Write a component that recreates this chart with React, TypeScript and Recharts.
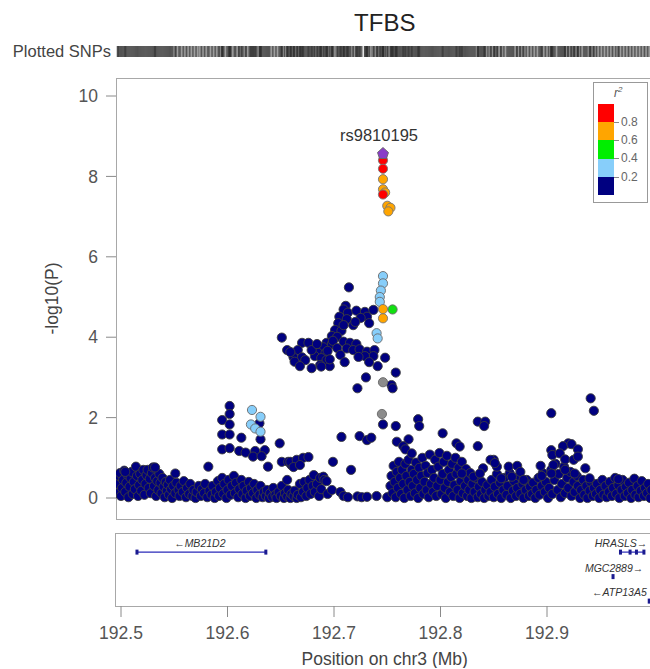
import { ScatterChart, Scatter, XAxis, YAxis, ReferenceLine } from 'recharts';

// region on chr3 (Mb) and -log10(P) range of the regional plot
const X_DOMAIN: [number, number] = [192.4953, 193.0];
const Y_DOMAIN: [number, number] = [-0.522, 10.448];
const X_TICKS = [192.5, 192.6, 192.7, 192.8, 192.9];
const Y_TICKS = [0, 2, 4, 6, 8, 10];

type Pt = [number, number]; // [position Mb, -log10(P)]

const LEAD_NAME = 'rs9810195';
const leadSnp: Pt[] = [[192.746, 8.57]];

const redSnps: Pt[] = [
  [192.746, 8.4], [192.746, 8.19], [192.746, 7.55],
];

const orangeSnps: Pt[] = [
  [192.746, 7.93], [192.746, 7.68], [192.748, 7.6], [192.750, 7.27],
  [192.753, 7.22], [192.751, 7.13], [192.746, 4.7], [192.746, 4.47],
];

const greenSnps: Pt[] = [[192.755, 4.69]];

const lightBlueSnps: Pt[] = [
  [192.746, 5.52], [192.746, 5.34], [192.744, 5.16], [192.743, 5.0], [192.743, 4.88],
  [192.740, 4.1], [192.741, 3.97],
  [192.623, 2.19], [192.631, 2.02], [192.622, 1.83], [192.626, 1.73], [192.631, 1.65],
];

const greySnps: Pt[] = [[192.745, 2.09], [192.746, 2.88]];

const navySnps: Pt[] = [
  // 192.50 - 192.54
  [192.497, 0.12], [192.497, 0.35], [192.498, 0.55], [192.499, 0.62], [192.500, 0.05],
  [192.501, 0.25], [192.502, 0.45], [192.503, 0.68], [192.504, 0.15], [192.505, 0.38],
  [192.506, 0.58], [192.507, 0.02], [192.508, 0.28], [192.509, 0.5], [192.510, 0.65],
  [192.511, 0.1], [192.512, 0.4], [192.513, 0.22], [192.514, 0.78], [192.515, 0.55],
  [192.516, 0.05], [192.517, 0.32], [192.518, 0.6], [192.519, 0.18], [192.520, 0.45],
  [192.521, 0.7], [192.522, 0.08], [192.523, 0.35], [192.524, 0.57], [192.525, 0.7],
  [192.526, 0.25], [192.527, 0.48], [192.528, 0.12], [192.529, 0.62], [192.530, 0.76],
  [192.531, 0.3], [192.532, 0.5], [192.533, 0.05], [192.534, 0.42], [192.535, 0.2],
  [192.536, 0.6], [192.504, 0.65], [192.532, 0.76],
  // 192.54 - 192.57
  [192.537, 0.38], [192.538, 0.12], [192.539, 0.5], [192.540, 0.28], [192.541, 0.02],
  [192.542, 0.4], [192.543, 0.18], [192.544, 0.33], [192.545, 0.08], [192.546, 0.45],
  [192.547, 0.22], [192.548, 0.0], [192.549, 0.3], [192.551, 0.61], [192.551, 0.12],
  [192.552, 0.38], [192.554, 0.2], [192.555, 0.05], [192.556, 0.3], [192.558, 0.15],
  [192.559, 0.42], [192.561, 0.02], [192.562, 0.25], [192.564, 0.1], [192.565, 0.35],
  [192.567, 0.05], [192.568, 0.2], [192.570, 0.0], [192.571, 0.15], [192.573, 0.3],
  // 192.57 - 192.635
  [192.575, 0.05], [192.576, 0.22], [192.578, 0.12], [192.579, 0.35], [192.581, 0.02],
  [192.582, 0.78], [192.583, 0.18], [192.585, 0.08], [192.586, 0.3], [192.588, 0.0],
  [192.589, 0.15], [192.591, 0.42], [192.592, 0.05], [192.593, 0.25], [192.595, 0.5],
  [192.596, 0.1], [192.597, 0.35], [192.599, 0.0], [192.600, 0.2], [192.601, 0.45],
  [192.603, 0.08], [192.604, 0.3], [192.606, 0.55], [192.607, 0.12], [192.608, 0.38],
  [192.610, 0.02], [192.611, 0.22], [192.613, 0.45], [192.614, 0.1], [192.615, 0.3],
  [192.617, 0.0], [192.618, 0.18], [192.620, 0.4], [192.621, 0.05], [192.622, 0.25],
  [192.624, 0.12], [192.625, 0.35], [192.627, 0.0], [192.628, 0.2], [192.630, 0.08],
  [192.631, 0.3], [192.633, 0.02], [192.634, 0.15],
  // 192.635 - 192.68
  [192.636, 0.05], [192.637, 0.2], [192.639, 0.0], [192.640, 0.12], [192.642, 0.03],
  [192.643, 0.25], [192.645, 0.08], [192.646, 0.0], [192.648, 0.15], [192.650, 0.05],
  [192.651, 0.3], [192.653, 0.0], [192.654, 0.12], [192.656, 0.04], [192.657, 0.2],
  [192.659, 0.0], [192.660, 0.1], [192.662, 0.05], [192.663, 0.18], [192.665, 0.0],
  [192.666, 0.08], [192.668, 0.35], [192.669, 0.02], [192.671, 0.15], [192.672, 0.4],
  [192.674, 0.05], [192.675, 0.25], [192.677, 0.45], [192.678, 0.1], [192.680, 0.3],
  // 192.68 - 192.75 (sparse floor)
  [192.682, 0.15], [192.681, 0.57], [192.684, 0.35], [192.686, 0.05], [192.687, 0.5],
  [192.688, 0.22], [192.690, 0.53], [192.691, 0.45], [192.693, 0.42], [192.694, 0.1],
  [192.698, 0.2], [192.699, 0.9], [192.706, 0.15], [192.709, 0.05], [192.713, 0.02],
  [192.716, 0.7], [192.722, 0.04], [192.726, 0.02], [192.731, 0.03], [192.740, 0.05],
  [192.750, 0.02],
  // 192.75 - 192.846 cluster
  [192.753, 0.3], [192.754, 0.55], [192.755, 0.12], [192.756, 0.8], [192.757, 0.4],
  [192.758, 0.02], [192.759, 0.65], [192.760, 0.25], [192.761, 0.9], [192.762, 0.5],
  [192.763, 0.1], [192.764, 0.7], [192.765, 0.35], [192.766, 0.0], [192.767, 0.85],
  [192.768, 0.55], [192.769, 0.2], [192.770, 0.95], [192.771, 0.4], [192.772, 0.05],
  [192.773, 0.7], [192.774, 0.3], [192.775, 0.6], [192.776, 0.12], [192.777, 0.88],
  [192.778, 0.45], [192.779, 0.0], [192.780, 0.75], [192.781, 0.25], [192.782, 0.55],
  [192.783, 1.0], [192.784, 0.1], [192.785, 0.4], [192.786, 0.8], [192.787, 0.2],
  [192.788, 0.62], [192.789, 0.02], [192.790, 1.08], [192.791, 0.35], [192.792, 0.7],
  [192.793, 0.15], [192.794, 0.5], [192.795, 0.95], [192.796, 0.05], [192.797, 0.3],
  [192.798, 0.78], [192.799, 1.12], [192.800, 0.45], [192.801, 0.1], [192.802, 0.6],
  [192.803, 0.9], [192.804, 0.25], [192.805, 0.0], [192.806, 1.05], [192.807, 0.4],
  [192.808, 0.7], [192.809, 0.15], [192.810, 0.52], [192.811, 0.85], [192.812, 0.05],
  [192.813, 0.32], [192.814, 1.0], [192.815, 0.6], [192.816, 0.2], [192.817, 0.75],
  [192.818, 0.0], [192.819, 0.42], [192.820, 0.9], [192.821, 0.12], [192.822, 0.58],
  [192.823, 0.3], [192.824, 0.72], [192.825, 0.05], [192.826, 0.45], [192.827, 0.2],
  [192.828, 0.62], [192.829, 0.0], [192.830, 0.35], [192.832, 0.15], [192.833, 0.5],
  [192.835, 0.02], [192.836, 0.28], [192.838, 0.1], [192.839, 0.4], [192.841, 0.0],
  [192.842, 0.2], [192.844, 0.32], [192.845, 0.05],
  // 192.846 - 193.0
  [192.847, 0.15], [192.848, 0.45], [192.850, 0.02], [192.851, 0.28], [192.853, 0.6],
  [192.854, 0.1], [192.856, 0.38], [192.857, 0.0], [192.859, 0.2], [192.860, 0.5],
  [192.862, 0.08], [192.863, 0.3], [192.865, 0.62], [192.866, 0.0], [192.868, 0.18],
  [192.869, 0.42], [192.871, 0.05], [192.872, 0.25], [192.874, 0.55], [192.875, 0.1],
  [192.877, 0.35], [192.878, 0.0], [192.880, 0.2], [192.881, 0.45], [192.883, 0.05],
  [192.884, 0.28], [192.886, 0.1], [192.887, 0.38], [192.889, 0.0], [192.890, 0.2],
  [192.892, 0.5], [192.893, 0.08], [192.895, 0.3], [192.896, 0.62], [192.898, 0.15],
  [192.899, 0.4], [192.901, 0.0], [192.902, 0.25], [192.904, 0.7], [192.905, 0.1],
  [192.907, 0.45], [192.908, 0.85], [192.910, 0.2], [192.911, 0.6], [192.913, 0.02],
  [192.914, 0.35], [192.916, 0.78], [192.917, 0.12], [192.919, 0.5], [192.920, 0.25],
  [192.922, 0.65], [192.923, 0.05], [192.925, 0.4], [192.926, 0.15], [192.928, 0.55],
  [192.929, 0.3], [192.931, 0.0], [192.932, 0.2], [192.934, 0.45], [192.935, 0.08],
  [192.937, 0.3], [192.938, 0.0], [192.940, 0.18], [192.941, 0.4], [192.943, 0.05],
  [192.944, 0.25], [192.946, 0.1], [192.947, 0.35], [192.949, 0.0], [192.950, 0.2],
  [192.952, 0.45], [192.953, 0.08], [192.955, 0.3], [192.956, 0.02], [192.958, 0.15],
  [192.959, 0.4], [192.961, 0.05], [192.962, 0.25], [192.964, 0.5], [192.965, 0.1],
  [192.967, 0.32], [192.968, 0.0], [192.970, 0.2], [192.971, 0.45], [192.973, 0.05],
  [192.974, 0.28], [192.976, 0.12], [192.977, 0.38], [192.979, 0.0], [192.980, 0.2],
  [192.982, 0.48], [192.983, 0.08], [192.985, 0.3], [192.986, 0.02], [192.988, 0.18],
  [192.989, 0.42], [192.991, 0.05], [192.992, 0.25], [192.994, 0.12], [192.995, 0.35],
  [192.997, 0.0], [192.998, 0.2],
  // raised points, right half
  [192.941, 2.48], [192.944, 2.17], [192.904, 2.11], [192.835, 1.9], [192.842, 1.9],
  [192.841, 1.79], [192.835, 1.29], [192.920, 1.36], [192.915, 1.29], [192.923, 1.34],
  [192.929, 1.21], [192.904, 1.19], [192.905, 1.07], [192.912, 1.11], [192.917, 0.96],
  [192.925, 0.95], [192.929, 1.03], [192.894, 0.8], [192.850, 0.95], [192.840, 0.74],
  [192.853, 0.78], [192.864, 0.78], [192.872, 0.8], [192.875, 0.65], [192.936, 0.74],
  [192.906, 0.82], [192.917, 0.7], [192.926, 0.61], [192.940, 0.49], [192.967, 0.47],
  [192.895, 0.55], [192.904, 0.61], [192.857, 0.49], [192.867, 0.53], [192.878, 0.45],
  [192.831, 0.53], [192.837, 0.61], [192.847, 0.95], [192.851, 0.87],
  // raised points, middle
  [192.707, 1.52], [192.724, 1.54], [192.731, 1.44], [192.735, 1.5], [192.746, 1.83],
  [192.758, 1.79], [192.779, 1.96], [192.780, 1.79], [192.802, 1.61], [192.815, 1.36],
  [192.818, 1.28], [192.759, 1.4], [192.770, 1.46], [192.765, 1.29], [192.767, 1.21],
  [192.773, 1.11], [192.820, 0.61],
  [192.730, 3.0], [192.758, 3.12], [192.722, 2.73], [192.754, 2.81], [192.755, 2.73],
  // raised points, left
  [192.602, 2.29], [192.602, 2.09], [192.595, 1.94], [192.602, 1.83], [192.595, 1.58],
  [192.602, 1.58], [192.613, 1.5], [192.631, 1.46], [192.649, 1.36], [192.630, 1.86],
  [192.595, 1.21], [192.602, 1.24], [192.611, 1.17], [192.617, 1.13], [192.626, 1.17],
  [192.635, 1.19], [192.624, 1.03], [192.632, 1.04], [192.638, 0.78], [192.651, 0.9],
  [192.657, 0.9], [192.660, 0.82], [192.656, 0.45], [192.659, 0.9], [192.665, 0.95],
  [192.671, 1.0], [192.676, 1.02], [192.662, 0.77], [192.668, 0.82],
  // upper cluster
  [192.714, 5.24], [192.711, 4.78], [192.709, 4.69], [192.713, 4.61], [192.721, 4.66],
  [192.729, 4.63], [192.737, 4.68], [192.705, 4.51], [192.712, 4.45], [192.731, 4.51],
  [192.733, 4.35], [192.704, 4.35], [192.718, 4.3], [192.701, 4.18], [192.707, 4.16],
  [192.698, 4.03], [192.703, 4.01], [192.693, 3.86], [192.698, 3.83], [192.690, 3.75],
  [192.685, 3.61], [192.692, 3.6], [192.682, 3.53], [192.688, 3.48], [192.693, 3.43],
  [192.687, 3.31], [192.696, 3.28], [192.725, 4.48], [192.720, 4.38], [192.709, 4.3],
  [192.699, 3.91], [192.703, 3.73], [192.694, 3.66],
  [192.709, 3.89], [192.715, 3.86], [192.721, 3.83], [192.712, 3.72], [192.718, 3.68],
  [192.724, 3.7], [192.731, 3.64], [192.738, 3.68], [192.737, 3.53], [192.748, 3.49],
  [192.706, 3.56], [192.729, 3.53], [192.723, 3.51], [192.733, 3.38], [192.741, 3.28],
  [192.710, 3.38],
  [192.651, 3.99], [192.656, 3.68], [192.670, 3.86], [192.676, 3.86], [192.666, 3.68],
  [192.662, 3.5], [192.670, 3.5], [192.663, 3.39], [192.673, 3.43], [192.688, 3.27],
  [192.696, 3.45], [192.679, 3.68], [192.684, 3.83], [192.679, 3.23], [192.668, 3.28],
  [192.659, 3.63],
];

// r^2 colour key, top to bottom
const R2_COLORS = ['#ff0000', '#ffa500', '#00ee00', '#87cefa', '#000080'];
const R2_BREAKS = ['0.8', '0.6', '0.4', '0.2'];

// gene track: row 1..3 from the top
const genes = [
  { name: 'MB21D2', strand: '-', start: 192.515, end: 192.636, row: 1, labelAt: 192.574 },
  { name: 'HRASLS', strand: '+', start: 192.969, end: 192.991, row: 1, labelAt: 192.9695 },
  { name: 'MGC2889', strand: '+', start: 192.962, end: 192.962, row: 2, labelAt: 192.963 },
  { name: 'ATP13A5', strand: '-', start: 192.996, end: 192.996, row: 3, labelAt: 192.968 },
];
const exons: Pt[] = [
  [192.515, 1], [192.636, 1], [192.969, 1], [192.978, 1], [192.984, 1], [192.991, 1],
  [192.962, 2], [192.996, 3],
];

const FONT = '"Liberation Sans", Arial, Helvetica, sans-serif';
const PLOT_LEFT = 116;
const CHART_W = 700;
const RIGHT = 46.5;

const rows = (pts: Pt[]) => pts.map(([pos, logp]) => ({ pos, logp }));

const dot = (fill: string, stroke: string) => (p: any) => (
  <circle cx={p.cx} cy={p.cy} r={4.6} fill={fill} stroke={stroke} strokeWidth={0.9} />
);

const allSnps = [...navySnps, ...greySnps, ...lightBlueSnps, ...greenSnps, ...orangeSnps, ...redSnps, ...leadSnp];

export default function App() {
  return (
    <div style={{ position: 'absolute', left: 0, top: 0, width: 650, height: 669, overflow: 'hidden', background: '#fff', fontFamily: FONT }}>
      {/* title */}
      <div style={{ position: 'absolute', left: PLOT_LEFT, top: 9, width: 537.5, textAlign: 'center', fontSize: 24, color: '#222' }}>
        TFBS
      </div>

      {/* plotted SNPs strip */}
      <div style={{ position: 'absolute', left: 0, top: 42, width: 111, textAlign: 'right', fontSize: 16.5, color: '#444' }}>
        Plotted SNPs
      </div>
      <div style={{ position: 'absolute', left: 0, top: 40 }}>
        <ScatterChart width={CHART_W} height={24} margin={{ top: 6, right: RIGHT, bottom: 7, left: PLOT_LEFT }}>
          <XAxis type="number" dataKey="pos" domain={X_DOMAIN} allowDataOverflow hide />
          <YAxis type="number" dataKey="band" domain={[0, 1]} hide />
          <Scatter
            data={allSnps.map(([pos]) => ({ pos, band: 0.5 }))}
            isAnimationActive={false}
            shape={(p: any) => <rect x={p.cx - 1} y={p.cy - 5.5} width={2} height={11} fill="#2e2e2e" fillOpacity={0.6} />}
          />
        </ScatterChart>
      </div>

      {/* association panel frame */}
      <div style={{ position: 'absolute', left: PLOT_LEFT, top: 78, width: 560, height: 440, border: '1px solid #a8a8a8' }} />

      <div style={{ position: 'absolute', left: 40, top: 288, width: 24, height: 20 }}>
        <div style={{ position: 'absolute', left: -40, top: 0, width: 104, textAlign: 'center', fontSize: 17.5, color: '#444', transform: 'rotate(-90deg)' }}>
          -log10(P)
        </div>
      </div>

      <div style={{ position: 'absolute', left: 0, top: 0 }}>
        <ScatterChart width={CHART_W} height={530} margin={{ top: 78, right: RIGHT, bottom: 11, left: PLOT_LEFT - 60 }}>
          <XAxis type="number" dataKey="pos" domain={X_DOMAIN} allowDataOverflow hide />
          <YAxis
            type="number"
            dataKey="logp"
            domain={Y_DOMAIN}
            ticks={Y_TICKS}
            allowDataOverflow
            width={60}
            axisLine={false}
            tickLine={{ stroke: '#8a8a8a' }}
            tickSize={10}
            tickMargin={8}
            tick={{ fill: '#555', fontSize: 17.5, fontFamily: FONT }}
          />
          <Scatter data={rows(navySnps)} isAnimationActive={false} shape={dot('#000080', '#3c3c3c')} />
          <Scatter data={rows(greySnps)} isAnimationActive={false} shape={dot('#8c8c8c', '#666')} />
          <Scatter data={rows(lightBlueSnps)} isAnimationActive={false} shape={dot('#87cefa', '#6a6a6a')} />
          <Scatter data={rows(greenSnps)} isAnimationActive={false} shape={dot('#11e011', '#6a6a6a')} />
          <Scatter data={rows(orangeSnps)} isAnimationActive={false} shape={dot('#ffa500', '#777')} />
          <Scatter data={rows(redSnps)} isAnimationActive={false} shape={dot('#ff0000', '#777')} />
          <Scatter
            data={rows(leadSnp)}
            isAnimationActive={false}
            shape={(p: any) => (
              <g>
                <polygon
                  points={`${p.cx},${p.cy - 6} ${p.cx + 5.5},${p.cy - 1} ${p.cx + 3.5},${p.cy + 5} ${p.cx - 3.5},${p.cy + 5} ${p.cx - 5.5},${p.cy - 1}`}
                  fill="#8a3cc8"
                  stroke="#666"
                  strokeWidth={0.9}
                />
                <text x={p.cx - 4} y={p.cy - 12} textAnchor="middle" fontSize={16.5} fill="#333" fontFamily={FONT}>
                  {LEAD_NAME}
                </text>
              </g>
            )}
          />
        </ScatterChart>
      </div>

      {/* r2 legend */}
      <div style={{ position: 'absolute', left: 593, top: 82, width: 53, height: 119, border: '1px solid #999', background: '#fff' }}>
        <div style={{ position: 'absolute', left: 20, top: 2, fontSize: 12, fontStyle: 'italic', color: '#555' }}>
          r<sup style={{ fontSize: 8 }}>2</sup>
        </div>
        {R2_COLORS.map((c, i) => (
          <div key={c} style={{ position: 'absolute', left: 4, top: 21 + i * 18.2, width: 16, height: 18.2, background: c }} />
        ))}
        {R2_BREAKS.map((b, i) => (
          <div key={b}>
            <div style={{ position: 'absolute', left: 20, top: 39 + i * 18.2, width: 5, height: 1, background: '#888' }} />
            <div style={{ position: 'absolute', left: 27, top: 32 + i * 18.2, fontSize: 12, color: '#666' }}>{b}</div>
          </div>
        ))}
      </div>

      {/* gene track */}
      <div style={{ position: 'absolute', left: 115, top: 533, width: 560, height: 72, border: '1px solid #a8a8a8' }} />
      <div style={{ position: 'absolute', left: 0, top: 533 }}>
        <ScatterChart width={CHART_W} height={135} margin={{ top: 0, right: RIGHT, bottom: 0, left: PLOT_LEFT }}>
          <XAxis
            type="number"
            dataKey="pos"
            domain={X_DOMAIN}
            ticks={X_TICKS}
            allowDataOverflow
            height={62}
            axisLine={false}
            tickLine={{ stroke: '#8a8a8a' }}
            tickSize={11}
            tickMargin={10}
            tickFormatter={(v: number) => v.toFixed(1)}
            tick={{ fill: '#555', fontSize: 17.5, fontFamily: FONT }}
            label={{ value: 'Position on chr3 (Mb)', position: 'insideBottom', offset: 3, fill: '#444', fontSize: 17.5, fontFamily: FONT }}
          />
          <YAxis type="number" dataKey="row" domain={[0.22, 3.2]} reversed hide />
          {genes.filter((g) => g.end > g.start).map((g) => (
            <ReferenceLine
              key={g.name}
              segment={[{ x: g.start, y: g.row }, { x: g.end, y: g.row }]}
              stroke="#2a2ab8"
              strokeWidth={1.2}
            />
          ))}
          <Scatter
            data={exons.map(([pos, row]) => ({ pos, row }))}
            isAnimationActive={false}
            shape={(p: any) => <rect x={p.cx - 1.5} y={p.cy - 2.5} width={3} height={5} fill="#1a1a90" />}
          />
          <Scatter
            data={genes.map((g) => ({ pos: g.labelAt, row: g.row, label: g.strand === '-' ? `\u2190${g.name}` : `${g.name}\u2192` }))}
            isAnimationActive={false}
            shape={(p: any) => (
              <text x={p.cx} y={p.cy - 5} textAnchor="middle" fontSize={10.5} fontStyle="italic" fill="#333" fontFamily={FONT}>
                {p.payload.label}
              </text>
            )}
          />
        </ScatterChart>
      </div>
    </div>
  );
}
